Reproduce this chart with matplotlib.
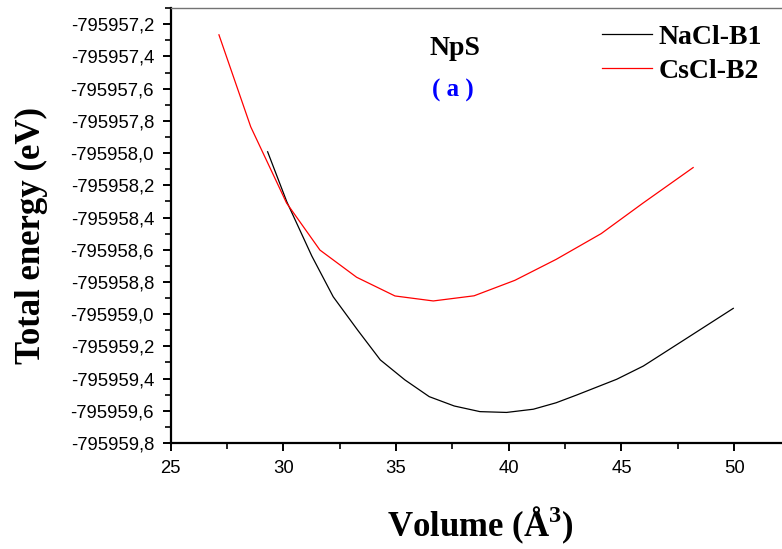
import numpy as np
import matplotlib.pyplot as plt
from matplotlib.ticker import FuncFormatter, MultipleLocator

# NaCl-B1 (black)
vol_b1 = [29.30, 30.15, 31.26, 32.21, 33.30, 34.30, 35.39, 36.47, 37.58, 38.72,
          39.90, 41.09, 42.10, 43.01, 44.79, 45.97, 47.89, 49.96]
e_b1 = [-795957.992, -795958.302, -795958.639, -795958.892, -795959.100, -795959.284,
        -795959.408, -795959.512, -795959.570, -795959.605, -795959.610, -795959.590,
        -795959.550, -795959.502, -795959.404, -795959.322, -795959.150, -795958.964]

# CsCl-B2 (red)
vol_b2 = [27.14, 28.55, 30.14, 31.62, 33.25, 34.95, 36.65, 38.46, 40.27, 42.10,
          44.10, 45.96, 48.18]
e_b2 = [-795957.266, -795957.837, -795958.31, -795958.602, -795958.771, -795958.887,
        -795958.918, -795958.886, -795958.79, -795958.66, -795958.50, -795958.31,
        -795958.09]

plt.rcParams['mathtext.fontset'] = 'custom'
plt.rcParams['mathtext.bf'] = 'Liberation Serif:bold'
plt.rcParams['mathtext.rm'] = 'Liberation Serif:bold'

fig = plt.figure(figsize=(7.82, 5.49), dpi=100)
ax = fig.add_axes([0.2183, 0.193, 0.807, 0.7923])

ax.plot(vol_b1, e_b1, color='black', lw=0.9, label='NaCl-B1')
ax.plot(vol_b2, e_b2, color='red', lw=0.9, label='CsCl-B2')

ax.set_xlim(25, 53)
ax.set_ylim(-795959.8, -795957.1)
ax.xaxis.set_major_locator(MultipleLocator(5))
ax.xaxis.set_minor_locator(MultipleLocator(2.5))
ax.yaxis.set_major_locator(MultipleLocator(0.2))
ax.yaxis.set_minor_locator(MultipleLocator(0.1))
ax.yaxis.set_major_formatter(FuncFormatter(lambda v, p: f'{v:.1f}'.replace('.', ',')))
ax.xaxis.set_major_formatter(FuncFormatter(lambda v, p: f'{v:.0f}'))

for side in ['left', 'bottom']:
    ax.spines[side].set_linewidth(1.6)
ax.spines['right'].set_visible(False)
ax.spines['top'].set_color('0.45')
ax.spines['top'].set_linewidth(1.0)

ax.tick_params(which='major', direction='out', length=6, width=1.4,
               labelsize=13.3, pad=6, top=False, right=False)
ax.tick_params(which='minor', direction='out', length=4, width=1.2,
               top=False, right=False)
for lab in ax.get_xticklabels() + ax.get_yticklabels():
    lab.set_fontfamily('Liberation Sans')

ax.set_ylabel('Total energy (eV)', fontsize=25, fontweight='bold',
              family='Liberation Serif', labelpad=16)
ax.yaxis.label.set_y(0.478)
ax.set_xlabel(r'Volume (Å$^{\mathbf{3}}$)', fontsize=25, fontweight='bold',
              family='Liberation Serif', labelpad=20)
ax.xaxis.label.set_x(0.49)

fig.text(0.582, 0.912, 'NpS', fontsize=20,
         fontweight='bold', family='Liberation Serif', va='center', ha='center')
fig.text(0.579, 0.836, '( a )', fontsize=18,
         fontweight='bold', family='Liberation Serif', color='blue',
         va='center', ha='center')

leg = ax.legend(loc='upper left', bbox_to_anchor=(0.7698, 0.955),
                bbox_transform=fig.transFigure, frameon=False,
                prop={'family': 'Liberation Serif', 'weight': 'bold', 'size': 20},
                handlelength=1.8, handletextpad=0.25, labelspacing=0.3,
                borderaxespad=0, borderpad=0)

fig.savefig('out.png', dpi=100)
